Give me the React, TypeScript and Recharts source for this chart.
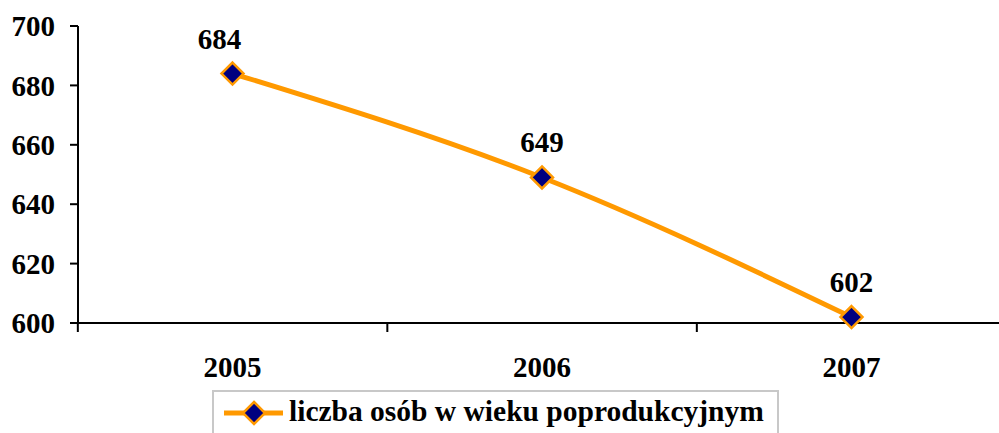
import { LineChart, Line, XAxis, YAxis, Legend, LabelList } from 'recharts';

const years = ['2005', '2006', '2007'];
const values = [684, 649, 602];
const yTicks = [600, 620, 640, 660, 680, 700];
const seriesName = 'liczba osób w wieku poprodukcyjnym';

const data = years.map((year, i) => ({ year, value: values[i] }));

const FONT = '"Liberation Serif", "Times New Roman", serif';
const ORANGE = '#FF9900';
const NAVY = '#000080';

const Diamond = ({ cx, cy }: { cx?: number; cy?: number }) => {
  if (cx == null || cy == null) return null;
  const r = 11;
  return (
    <path
      d={`M${cx},${cy - r}L${cx + r},${cy}L${cx},${cy + r}L${cx - r},${cy}Z`}
      fill={NAVY}
      stroke={ORANGE}
      strokeWidth={2.5}
    />
  );
};

// category labels plus the tick marks that sit between categories
const XTick = (props: any) => {
  const { x, y, payload, index, width, visibleTicksCount } = props;
  const count = visibleTicksCount || years.length;
  const half = width / count / 2;
  const last = index === count - 1;
  return (
    <g>
      <line x1={x - half} x2={x - half} y1={y} y2={y + 9} stroke="#000" strokeWidth={2} />
      {last && <line x1={x + half} x2={x + half} y1={y} y2={y + 9} stroke="#000" strokeWidth={2} />}
      <text x={x} y={y + 54} textAnchor="middle" fontFamily={FONT} fontWeight="bold" fontSize={29} fill="#000">
        {payload.value}
      </text>
    </g>
  );
};

// value label above each point; first one sits a bit to the left like the original
const ValueLabel = (props: any) => {
  const { x, y, value, index } = props;
  const dx = index === 0 ? -13 : 0;
  return (
    <text x={x + dx} y={y - 25} textAnchor="middle" fontFamily={FONT} fontWeight="bold" fontSize={29} fill="#000">
      {value}
    </text>
  );
};

const LegendBox = () => (
  <div
    style={{
      width: 567,
      height: 60,
      border: '2px solid #c8c8c8',
      background: '#fff',
      position: 'relative',
      boxSizing: 'border-box',
    }}
  >
    <svg width={80} height={40} style={{ position: 'absolute', left: 8, top: 1 }}>
      <line x1={2} x2={61} y1={20} y2={20} stroke={ORANGE} strokeWidth={5} />
      <Diamond cx={32} cy={20} />
    </svg>
    <span
      style={{
        position: 'absolute',
        left: 75,
        top: 2,
        fontFamily: FONT,
        fontWeight: 'bold',
        fontSize: 29.5,
        lineHeight: '34px',
        whiteSpace: 'nowrap',
        color: '#000',
      }}
    >
      {seriesName}
    </span>
  </div>
);

export default function App() {
  return (
    <div style={{ position: 'absolute', left: 0, top: 0, width: 999, height: 433, overflow: 'hidden', background: '#fff' }}>
      <LineChart width={1006} height={433} data={data} margin={{ top: 26, right: 0, bottom: 50, left: 0 }}>
        <XAxis
          dataKey="year"
          height={60}
          padding={{ left: 154.5, right: 154.5 }}
          axisLine={{ stroke: '#000', strokeWidth: 2 }}
          tickLine={false}
          tickSize={0}
          tickMargin={0}
          tick={<XTick />}
          interval={0}
        />
        <YAxis
          width={78}
          domain={[600, 700]}
          ticks={yTicks}
          axisLine={{ stroke: '#000', strokeWidth: 2 }}
          tickLine={{ stroke: '#000', strokeWidth: 2 }}
          tickSize={8}
          tickMargin={15}
          tick={{ fontFamily: FONT, fontWeight: 'bold', fontSize: 29, fill: '#000' }}
        />
        <Legend
          layout="vertical"
          align="center"
          verticalAlign="middle"
          wrapperStyle={{ left: 212, top: 390, width: 567, height: 60 }}
          content={() => <LegendBox />}
        />
        <Line
          type="monotone"
          dataKey="value"
          name={seriesName}
          stroke={ORANGE}
          strokeWidth={5}
          dot={<Diamond />}
          activeDot={false}
          isAnimationActive={false}
        >
          <LabelList dataKey="value" content={<ValueLabel />} />
        </Line>
      </LineChart>
    </div>
  );
}
